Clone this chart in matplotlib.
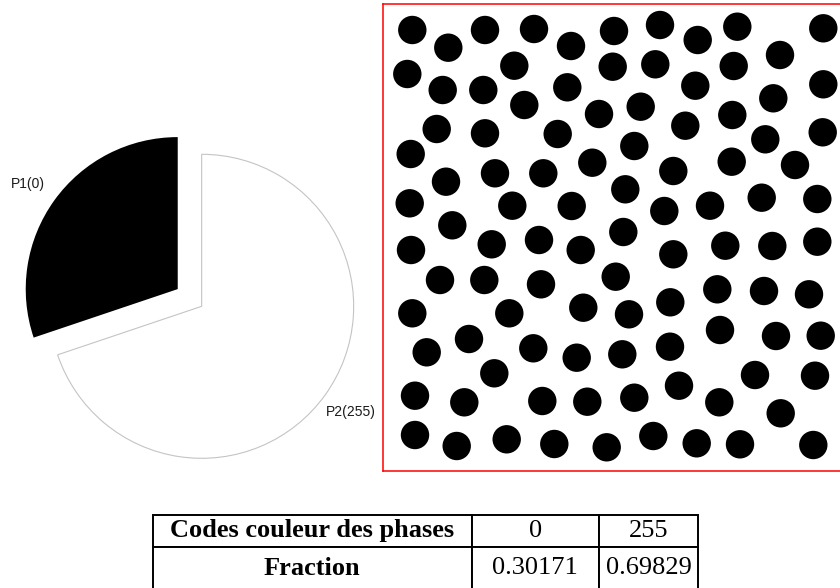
import matplotlib
matplotlib.use("Agg")
import matplotlib.pyplot as plt
from matplotlib.patches import Circle

# ---------------- data ----------------
phase_labels = ["P1(0)", "P2(255)"]
phase_codes = ["0", "255"]
fractions = [0.30171, 0.69829]
fraction_text = ["0.30171", "0.69829"]
table_header = "Codes couleur des phases"
table_row = "Fraction"

# centres of the black particles in the binary image (pixel coordinates)
circle_x = [412.3, 448.3, 485, 534, 571, 614, 660, 697.7, 737.3, 823.3, 780,
            407.3, 514.3, 612.7, 655.3, 733.7,
            442.7, 483.3, 567.3, 695.3, 823.3,
            524.3, 599, 640.7, 773.3, 732.3,
            436.7, 485, 557.7, 685.3, 765.3, 822.7,
            410.7, 634.3, 592.3,
            446, 495, 543.3, 673.3, 731.7, 795,
            409.7, 512.3, 571.7, 625.3, 664.3, 710, 761.7, 817.3,
            452.3, 623.3,
            491.7, 539, 580.7, 411, 673.3, 725.3, 772.3, 817.3,
            440, 484.3, 541, 615.7, 717.3, 764, 809,
            412.3, 509.3, 583.3, 629, 670.3,
            720, 776, 820.7,
            426.7, 469, 533.3, 576.7, 622.3, 670,
            494.3, 755, 815,
            415, 464.3, 542.3, 587.3, 634.3, 679, 719.3, 780.7,
            415, 456.7, 506.7, 554.3, 606.7, 653.3, 696.7, 740, 813.3]
circle_y = [30, 47.7, 30, 29, 46, 31, 25, 40, 26.7, 28.3, 55,
            74, 65.7, 66.7, 64.3, 66,
            90, 90, 87.3, 85.7, 84.3,
            105, 114, 106.7, 98.3, 115,
            129, 133.3, 134, 125.7, 139.3, 132.3,
            154, 146, 162.7,
            181.7, 173.3, 173.3, 171, 161.7, 165,
            203.3, 205.7, 206, 189.3, 211, 205.7, 197.7, 199,
            225.3, 232,
            244.3, 240, 250, 250, 254.3, 245.7, 246, 241.7,
            280, 280, 284.3, 276.7, 289.3, 291, 294.3,
            313.3, 313.3, 307.7, 314.3, 302.3,
            330, 336, 335.7,
            352.3, 339, 348.3, 357.7, 354.3, 346.7,
            373.3, 375, 375.7,
            395.7, 402.3, 401, 401.7, 397.7, 385.7, 402.3, 413.3,
            435, 446, 439.3, 444, 447.3, 436, 443.3, 444.3, 445]
circle_radius = 14.2

# ---------------- figure ----------------
W, H = 840, 588
fig = plt.figure(figsize=(W / 100, H / 100), dpi=100)
fig.patch.set_facecolor("white")


def px_axes(x0, y0, x1, y1):
    """axes from pixel box (top-left origin)"""
    return fig.add_axes([x0 / W, 1 - y1 / H, (x1 - x0) / W, (y1 - y0) / H])


# ---- pie ----
pcx, pcy, half = 189.7, 297.7, 190
ax_pie = px_axes(pcx - half, pcy - half, pcx + half, pcy + half)
wedges, texts = ax_pie.pie(
    fractions, labels=phase_labels, startangle=90, counterclock=True,
    colors=["black", "white"], explode=[0.097, 0.097],
    labeldistance=1.12,
    wedgeprops=dict(linewidth=0.8),
    textprops=dict(fontsize=10, family="Liberation Sans", color="#1a1a1a"))
wedges[0].set_edgecolor("black")
wedges[0].set_linewidth(0)
wedges[1].set_edgecolor("#c4c4c4")
# label placement as in the reference (right-aligned left label, left-aligned right label)
texts[0].set_position((-0.952, 0.75))
texts[0].set_ha("right")
texts[1].set_position((0.897, -0.752))
texts[1].set_ha("left")
ax_pie.set_xlim(-1.25, 1.25)
ax_pie.set_ylim(-1.25, 1.25)
ax_pie.axis("off")

# ---- binary image ----
ix0, iy0, ix1, iy1 = 383, 4, 842, 470.7
ax_img = px_axes(ix0, iy0, ix1, iy1)
ax_img.set_xlim(ix0, ix1)
ax_img.set_ylim(iy1, iy0)
for x, y in zip(circle_x, circle_y):
    ax_img.add_patch(Circle((x, y), circle_radius, facecolor="black",
                            edgecolor="none"))
ax_img.set_xticks([])
ax_img.set_yticks([])
for sp in ax_img.spines.values():
    sp.set_color("#ff0000")
    sp.set_linewidth(1.1)

# ---- table ----
tx0, ty0, tx1, ty1 = 152.7, 515, 698.3, 590
ax_tab = px_axes(tx0, ty0, tx1, ty1)
ax_tab.axis("off")
col_px = [471.7 - 152.7, 599 - 471.7, 698.3 - 599]
tot = sum(col_px)
cells = [[table_header] + phase_codes, [table_row] + fraction_text]
tab = ax_tab.table(cellText=cells, colWidths=[c / tot for c in col_px],
                   cellLoc="center", bbox=[0, 0, 1, 1])
tab.auto_set_font_size(False)
row_h = [32, 43]
for (r, c), cell in tab.get_celld().items():
    cell.set_height(row_h[r])
    cell.set_linewidth(1.4)
    cell.set_edgecolor("black")
    txt = cell.get_text()
    txt.set_fontsize(19)
    txt.set_family("Liberation Serif")
    if c == 0:
        txt.set_fontweight("bold")

fig.savefig("out.png", dpi=100, facecolor="white")
